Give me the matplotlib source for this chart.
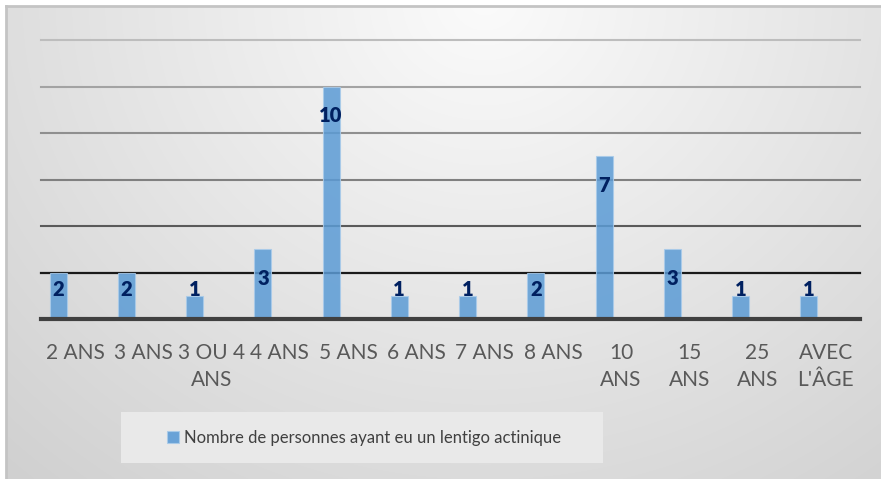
import numpy as np
import matplotlib
matplotlib.use("Agg")
import matplotlib.pyplot as plt
from matplotlib.patches import Rectangle

# Data
categories = ["2 ANS", "3 ANS", "3 OU 4\nANS", "4 ANS", "5 ANS", "6 ANS",
              "7 ANS", "8 ANS", "10\nANS", "15\nANS", "25\nANS", "AVEC\nL'ÂGE"]
values = [2, 2, 1, 3, 10, 1, 1, 2, 7, 3, 1, 1]
series_name = "Nombre de personnes ayant eu un lentigo actinique"
grid_levels = [2, 4, 6, 8, 10, 12]

W, H = 881, 479
fig = plt.figure(figsize=(W / 100, H / 100), dpi=100)
fig.patch.set_facecolor("white")

# Soft grey gradient behind the chart area
bg = fig.add_axes([0, 0, 1, 1], zorder=-10)
yy, xx = np.mgrid[0:H, 0:W]
r = np.sqrt(((xx - 0.55 * W) / (0.6 * W)) ** 2 + (yy / H) ** 2)
val = np.clip(251 - 32 * r, 0, 255) / 255.0
img = np.dstack([val, val, val])
img[:6, :, :] = 1.0
img[:, :6, :] = 1.0
bg.imshow(img, extent=[0, W, H, 0], aspect="auto", interpolation="bilinear")
bg.plot([6, 6], [6, H], color="#c4c4c4", lw=2)
bg.plot([6, W], [6, 6], color="#c4c4c4", lw=2)
bg.set_xlim(0, W)
bg.set_ylim(H, 0)
bg.axis("off")

# Plot area
left, right, base, top = 41, 860, 319, 40
ax = fig.add_axes([left / W, 1 - base / H, (right - left) / W, (base - top) / H])
ax.set_facecolor("none")
x = np.arange(len(values))
ax.set_xlim(-0.5, len(values) - 0.5)
ax.set_ylim(0, 12)

grid_colors = ["#1a1a1a", "#5a5a5a", "#808080", "#8f8f8f", "#a3a3a3", "#bdbdbd"]
grid_widths = [1.6, 1.5, 1.5, 1.5, 1.5, 1.5]
for lvl, c, lw in zip(grid_levels, grid_colors, grid_widths):
    ax.axhline(lvl, color=c, lw=lw, zorder=1, clip_on=False)
ax.axhline(0, color="#404040", lw=3, zorder=4, clip_on=False)

bars = ax.bar(x - 0.25, values, width=0.25, color="#5b9bd5", alpha=0.85,
              edgecolor="#a9cbea", linewidth=0.8, zorder=2)

# Value labels at the inside end of each bar
for xi, v in zip(x, values):
    ax.text(xi - 0.25, max(v - 1.25, 1.25), str(v), ha="center", va="center",
            fontsize=14.5, fontweight="heavy", color="#002060",
            family="Lato", zorder=5)

ax.set_xticks(x)
ax.set_xticklabels(categories, fontsize=15, color="#595959", family="Lato",
                   linespacing=1.45, va="top")
ax.tick_params(axis="x", length=0, pad=17)
ax.set_yticks([])
for s in ax.spines.values():
    s.set_visible(False)

# Legend box
fig.patches.append(Rectangle((121 / W, 1 - 463 / H), (603 - 121) / W, (463 - 412) / H,
                             transform=fig.transFigure, facecolor="#e9e9e9",
                             edgecolor="none", zorder=0))
handle = Rectangle((0, 0), 1, 1, facecolor="#5b9bd5", alpha=0.9,
                   edgecolor="#a9cbea", linewidth=0.8)
fig.legend([handle], [series_name], loc="center",
           bbox_to_anchor=(364 / W, 1 - 437.5 / H), frameon=False,
           prop={"family": "Lato", "size": 12}, labelcolor="#404040",
           handlelength=0.75, handleheight=0.75, handletextpad=0.3)

fig.savefig("out.png", dpi=100)
